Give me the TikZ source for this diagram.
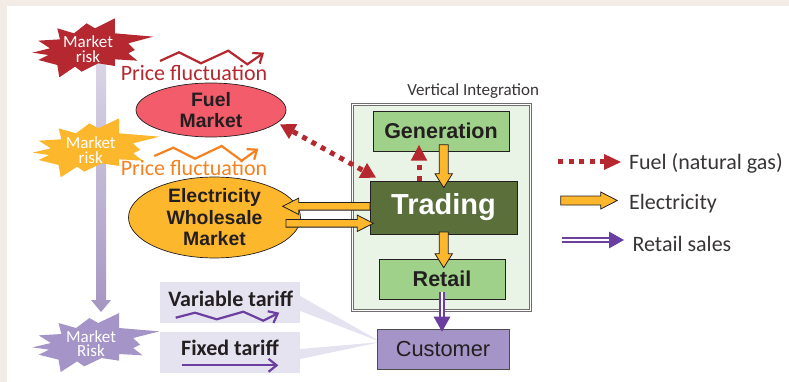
\documentclass[tikz,border=0pt]{standalone}
\usepackage{fontspec}
\setmainfont{Carlito}
\newfontfamily\arial{Liberation Sans}
\usetikzlibrary{calc,arrows.meta,shapes.geometric}
\definecolor{pagebg}{HTML}{F3EBE5}
\definecolor{riskred}{HTML}{B5282F}
\definecolor{riskorange}{HTML}{FDB72D}
\definecolor{trendorange}{HTML}{F58220}
\definecolor{riskpurple}{HTML}{A594C7}
\definecolor{linepurple}{HTML}{6B3FA0}
\definecolor{fuelfill}{HTML}{F25C6B}
\definecolor{panel}{HTML}{E9F3E6}
\definecolor{lightgreen}{HTML}{9FD18A}
\definecolor{darkgreen}{HTML}{5B6F3B}
\definecolor{tariffbg}{HTML}{E6E3F1}
\definecolor{ink}{HTML}{231F20}
\definecolor{shadetop}{HTML}{DAD6E6}
\definecolor{shadebot}{HTML}{A595C2}
\tikzset{
  x=1pt,y=-1pt,
  market/.style={ellipse,draw=ink,line width=.7pt,inner sep=0pt,align=center,text=ink,font=\arial\bfseries\fontsize{19.4}{21.5}\selectfont},
  greenbox/.style={rectangle,draw=ink,line width=.8pt,fill=lightgreen,inner sep=0pt,text=ink,font=\arial\bfseries\fontsize{21.5}{24}\selectfont},
  risktext/.style={text=white,align=center,font=\fontsize{17}{14.5}\selectfont},
  pricetext/.style={font=\fontsize{22}{24}\selectfont},
  legendtext/.style={anchor=west,text=ink!90,font=\fontsize{22}{24}\selectfont},
  trend/.style={line width=2.2pt,-{Straight Barb[length=8pt,width=13pt,line width=2.2pt]}},
  fuelflow/.style={riskred,line width=5pt,dash pattern=on 5pt off 5.6pt},
  fueltip/.style={fill=riskred,draw=none},
  elecflow/.style={fill=riskorange,draw=ink,line width=.8pt,line join=miter},
  retailflow/.style={linepurple,double=white,double distance=2.2pt,line width=1.5pt,
    -{Triangle[length=15pt,width=16.5pt,fill=linepurple]}},
  tariffbox/.style={rectangle,fill=tariffbg,draw=none,minimum width=140pt,minimum height=40.7pt,inner sep=0pt},
  tarifftext/.style={text=ink,font=\bfseries\fontsize{22}{24}\selectfont},
  wedge/.style={fill=tariffbg,draw=none},
}
\newcommand{\blockarrow}[5]{% start, tip, shaft half, head half, head length
  \coordinate (h) at ($(#2)!#5pt!(#1)$);
  \draw[elecflow] ($(#1)!#3pt!90:(#2)$) -- ($(h)!#3pt!-90:(#1)$) -- ($(h)!#4pt!-90:(#1)$) -- (#2)
    -- ($(h)!#4pt!90:(#1)$) -- ($(h)!#3pt!90:(#1)$) -- ($(#1)!#3pt!-90:(#2)$) -- cycle;
}
\newcommand{\fuelhead}[3]{% base, tip, half width
  \fill[fueltip] ($(#1)!#3pt!90:(#2)$) -- (#2) -- ($(#1)!#3pt!-90:(#2)$) -- cycle;
}
\newcommand{\burst}[4]{% colour, xoffset, yoffset, xscale
  \begin{scope}[shift={(#2,#3)},x=#4*0.3333pt,y=-0.3333pt]
  \fill[#1] (172,85)--(222,100)--(260,70)--(285,85)--(345,55)--(345,100)--(460,110)--(385,130)
    --(405,150)--(385,160)--(412,182)--(345,178)--(345,198)--(295,190)--(245,215)--(225,200)
    --(178,232)--(172,195)--(115,180)--(145,165)--(97,158)--(150,145)--(115,122)--(180,118)--cycle;
  \end{scope}
}
\begin{document}
\begin{tikzpicture}
\useasboundingbox (0,0) rectangle (789,382);
\fill[pagebg] (0,0) rectangle (789,382);
\fill[white] (7,6) rectangle (789,382);

% tariff boxes and wedges
\node[tariffbox] (var) at (230,302.3) {};
\node[tariffbox] (fix) at (230,352.3) {};
\coordinate (apex) at (381,342);
\fill[wedge] (var.east |- 0,296) -- (apex) -- (var.east |- 0,311) -- cycle;
\fill[wedge] (fix.east |- 0,349) -- (apex) -- (fix.east |- 0,359) -- cycle;

% risk arrow
\shade[top color=shadetop,bottom color=shadebot]
  (96,60) -- (106,60) -- (106,300) -- (111,300) -- (101,312) -- (91,300) -- (96,300) -- cycle;

% bursts
\burst{riskred}{0}{0}{1}
\burst{riskorange}{-1.6}{100}{1.05}
\burst{riskpurple}{-1.6}{294.7}{1.05}
\node[risktext] (r1) at (88,49.2) {Market\\risk};
\node[risktext] (r2) at (90.7,150.3) {Market\\risk};
\node[risktext] (r3) at (91,343.7) {Market\\Risk};

% trends
\coordinate (ta) at (160,61);
\coordinate (tb) at (264,52.7);
\draw[trend,riskred] (ta) -- (179,52.3) -- (201,63.3) -- (228.3,50.7) -- (247.3,64.3) -- (tb);
\coordinate (tc) at (154.3,156);
\coordinate (td) at (258.3,148.7);
\draw[trend,trendorange] (tc) -- (173.3,147.7) -- (195,158.7) -- (221.7,146) -- (241.7,160.7) -- (td);
\coordinate (te) at (175.7,317.7);
\coordinate (tf) at (279.3,312.7);
\draw[trend,linepurple] (te) -- (195,312.7) -- (216.7,319.3) -- (243.3,311.7) -- (263.3,320.7) -- (tf);
\coordinate (tg) at (181.7,365.3);
\coordinate (th) at (278.3,365.3);
\draw[trend,linepurple] (tg) -- (th);

\node[pricetext,text=riskred] (p1) at (194,73) {Price fluctuation};
\node[pricetext,text=trendorange] (p2) at (194,168) {Price fluctuation};
\node[tarifftext] (vart) at (230.7,299) {Variable tariff};
\node[tarifftext] (fixt) at (230,348.3) {Fixed tariff};

% markets
\node[market,fill=fuelfill,minimum width=150pt,minimum height=54pt] (fuel) at (211,110) {Fuel\\Market};
\node[market,fill=riskorange,minimum width=172pt,minimum height=79pt] (elec) at (214.5,217.5) {Electricity\\Wholesale\\Market};

% vertical integration panel
\node[font=\fontsize{17}{18}\selectfont,text=ink!90] (vi) at (473.2,90.7) {Vertical Integration};
\node[rectangle,draw=ink!65,fill=panel,line width=1pt,double=white,double distance=1.2pt,
  minimum width=178pt,minimum height=206pt,inner sep=0pt] (panel) at (441.8,207.5) {};
\node[greenbox,minimum width=136pt,minimum height=40pt] (gen) at (441,131) {Generation};
\node[greenbox,fill=darkgreen,text=white,minimum width=147pt,minimum height=53pt,
  font=\arial\bfseries\fontsize{29}{30}\selectfont] (trade) at (443.5,207.5) {Trading};
\node[greenbox,minimum width=126pt,minimum height=40pt] (ret) at (442,279) {Retail};
\node[rectangle,draw=ink!80,fill=riskpurple,line width=.8pt,minimum width=132pt,minimum height=40pt,inner sep=0pt,
  text=ink,font=\arial\fontsize{21.8}{24}\selectfont] (cust) at (443,349) {Customer};

% electricity flows
\coordinate (e1) at (443.7,144.7); \coordinate (e2) at (443.7,187.7);
\blockarrow{e1}{e2}{4.5}{8.7}{14}
\coordinate (e3) at (443.7,232); \coordinate (e4) at (443.7,267.7);
\blockarrow{e3}{e4}{4.5}{8.7}{14}
\coordinate (e5) at (370,206.3); \coordinate (e6) at (282.7,206.3);
\blockarrow{e5}{e6}{3.8}{8.2}{16}
\coordinate (e7) at (286,223.3); \coordinate (e8) at (373.3,223.3);
\blockarrow{e7}{e8}{3.8}{8.2}{16}

% fuel flows
\coordinate (f1) at (280,124.3); \coordinate (f2) at (376,177.7);
\coordinate (f1b) at ($(f1)!15pt!(f2)$); \coordinate (f2b) at ($(f2)!15pt!(f1)$);
\draw[fuelflow] (f1b) -- (f2b);
\fuelhead{f1b}{f1}{8.5}
\fuelhead{f2b}{f2}{8.5}
\coordinate (f3) at (419,181); \coordinate (f4) at (419,145); \coordinate (f4b) at (419,160.7);
\draw[fuelflow] (f3) -- (f4b);
\fuelhead{f4b}{f4}{8.3}

% retail flow
\coordinate (rs) at (442,292); \coordinate (re) at (442,331.7);
\draw[retailflow] (rs) -- (re);

% legend
\node[legendtext] (l1) at (625.5,163.5) {Fuel (natural gas)};
\node[legendtext] (l2) at (625.5,203.5) {Electricity};
\node[legendtext] (l3) at (629,243.5) {Retail sales};
\coordinate (a1) at (558,162); \coordinate (a2) at (621,162); \coordinate (a2b) at (604,162);
\draw[fuelflow] (a1) -- (a2b);
\fuelhead{a2b}{a2}{8}
\coordinate (a3) at (560.7,200.5); \coordinate (a4) at (617.3,200.5);
\blockarrow{a3}{a4}{4.5}{8.5}{16.6}
\coordinate (a5) at (561.7,240); \coordinate (a6) at (624,240);
\draw[retailflow] (a5) -- (a6);
\end{tikzpicture}
\end{document}
